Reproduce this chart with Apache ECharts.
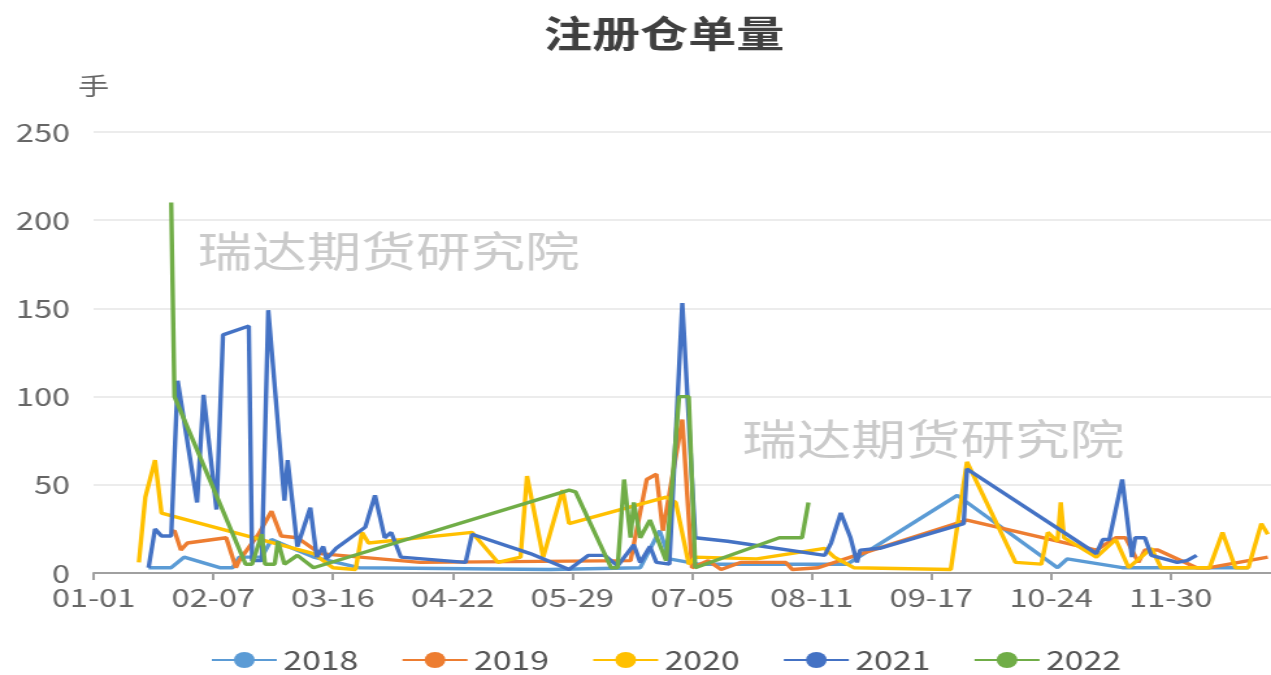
<!DOCTYPE html>
<html>
<head>
<meta charset="utf-8">
<title>注册仓单量</title>
<script src="https://cdn.jsdelivr.net/npm/echarts@6/dist/echarts.min.js"></script>
<style>
  html, body { margin: 0; padding: 0; background: #fff; }
  #wrap { width: 1271px; height: 675px; overflow: hidden; }
  /* the reference is a horizontally stretched screenshot, so draw narrower and stretch */
  #chart { width: 978px; height: 675px; transform: scaleX(1.2996); transform-origin: 0 0; }
</style>
</head>
<body>
<div id="wrap"><div id="chart"></div></div>
<script>
// 年份 / 图例
const years = ['2018', '2019', '2020', '2021', '2022'];
const colors = ['#5B9BD5', '#ED7D31', '#FFC000', '#4472C4', '#70AD47'];

// y 轴刻度
const yTicks = [0, 50, 100, 150, 200, 250];

// 注册仓单量（手），[日期, 数值]
const s2018 = [
  ['01-18', 3], ['01-25', 3], ['01-29', 9], ['02-09', 3], ['02-13', 3], ['02-15', 9],
  ['02-22', 9], ['02-25', 19], ['03-10', 9], ['03-24', 3], ['05-22', 2], ['06-19', 3],
  ['06-25', 24], ['06-28', 8], ['07-07', 5], ['08-22', 5], ['09-25', 44], ['10-26', 3],
  ['10-29', 8], ['11-15', 3], ['12-24', 3]
];
const s2019 = [
  ['01-25', 23], ['01-26', 24], ['01-28', 13], ['01-30', 17], ['02-11', 20], ['02-14', 3],
  ['02-15', 7], ['02-21', 22], ['02-25', 35], ['02-28', 21], ['03-05', 20], ['03-12', 11],
  ['04-12', 6], ['06-16', 7], ['06-21', 53], ['06-24', 56], ['06-26', 24], ['07-02', 87],
  ['07-05', 3], ['07-10', 7], ['07-14', 2], ['07-20', 6], ['08-03', 6], ['08-05', 2],
  ['08-13', 3], ['08-23', 9], ['09-28', 30], ['11-07', 13], ['11-13', 20], ['11-16', 20],
  ['11-20', 6], ['11-22', 13], ['11-26', 13], ['12-08', 3], ['12-12', 3], ['12-30', 9]
];
const s2020 = [
  ['01-15', 6], ['01-17', 43], ['01-20', 64], ['01-22', 34], ['03-10', 11], ['03-16', 3],
  ['03-23', 2], ['03-25', 23], ['03-27', 17], ['04-28', 23], ['05-06', 6], ['05-13', 9],
  ['05-15', 55], ['05-20', 9], ['05-26', 47], ['05-28', 28], ['06-27', 43], ['06-30', 40],
  ['07-04', 5], ['07-06', 9], ['07-25', 8], ['08-15', 14], ['08-18', 9], ['08-24', 3],
  ['09-23', 2], ['09-28', 63], ['10-13', 6], ['10-21', 5], ['10-23', 23], ['10-26', 18],
  ['10-27', 40], ['10-28', 20], ['11-07', 9], ['11-13', 19], ['11-17', 3], ['11-24', 14],
  ['11-27', 3], ['12-12', 3], ['12-16', 23], ['12-20', 3], ['12-24', 3], ['12-28', 28],
  ['12-30', 22]
];
const s2021 = [
  ['01-18', 3], ['01-20', 25], ['01-22', 21], ['01-25', 21], ['01-27', 109], ['02-02', 40],
  ['02-04', 101], ['02-08', 36], ['02-10', 135], ['02-18', 140], ['02-19', 7], ['02-22', 7],
  ['02-24', 149], ['03-01', 41], ['03-02', 64], ['03-05', 15], ['03-09', 37], ['03-11', 9],
  ['03-13', 15], ['03-14', 8], ['03-17', 14], ['03-26', 26], ['03-29', 44], ['04-01', 20],
  ['04-03', 23], ['04-06', 9], ['04-26', 6], ['04-28', 22], ['05-16', 11], ['05-28', 2],
  ['06-03', 10], ['06-08', 10], ['06-12', 4], ['06-17', 16], ['06-19', 6], ['06-22', 15],
  ['06-24', 6], ['06-28', 5], ['07-02', 153], ['07-06', 20], ['07-16', 18], ['08-15', 10],
  ['08-17', 17], ['08-20', 34], ['08-23', 20], ['08-25', 6], ['08-26', 13], ['09-01', 14],
  ['09-27', 28], ['09-28', 59], ['11-07', 11], ['11-09', 19], ['11-11', 19], ['11-15', 53],
  ['11-18', 9], ['11-19', 20], ['11-22', 20], ['11-24', 10], ['12-02', 6], ['12-05', 7],
  ['12-08', 10]
];
const s2022 = [
  ['01-25', 210], ['01-26', 100], ['02-17', 5], ['02-19', 5], ['02-22', 22], ['02-23', 5],
  ['02-26', 5], ['02-27', 18], ['03-01', 5], ['03-05', 10], ['03-10', 3], ['05-28', 47],
  ['05-30', 46], ['06-10', 3], ['06-12', 3], ['06-14', 53], ['06-16', 20], ['06-17', 40],
  ['06-19', 20], ['06-22', 30], ['06-27', 7], ['07-01', 100], ['07-04', 100], ['07-06', 3],
  ['08-01', 20], ['08-08', 20], ['08-10', 40]
];
const seriesData = [s2018, s2019, s2020, s2021, s2022];

// x 轴：全年 365 天 MM-DD
const monthDays = [31, 28, 31, 30, 31, 30, 31, 31, 30, 31, 30, 31];
const days = [];
monthDays.forEach((n, m) => {
  for (let d = 1; d <= n; d++) {
    days.push(String(m + 1).padStart(2, '0') + '-' + String(d).padStart(2, '0'));
  }
});

const chart = echarts.init(document.getElementById('chart'));
const font = "'Noto Sans CJK SC', 'Noto Sans', sans-serif";

const options = {
  animation: false,
  textStyle: { fontFamily: font },
  title: {
    text: '注册仓单量',
    left: 506,
    textAlign: 'center',
    top: 10,
    textStyle: { fontSize: 37, fontWeight: 'bold', color: '#404040', fontFamily: font }
  },
  // 水印
  graphic: [
    { type: 'text', x: 152, y: 230, z: 0,
      style: { text: '瑞达期货研究院', font: '42px ' + font, fill: '#cacaca' } },
    { type: 'text', x: 571, y: 418, z: 0,
      style: { text: '瑞达期货研究院', font: '42px ' + font, fill: '#cacaca' } }
  ],
  legend: {
    data: years,
    left: 157,
    top: 642,
    itemWidth: 50,
    itemHeight: 20,
    itemGap: 33,
    textStyle: { fontSize: 26, color: '#555' }
  },
  grid: { left: 72, right: 0, top: 132, bottom: 102 },
  xAxis: {
    type: 'category',
    data: days,
    boundaryGap: false,
    axisLine: { lineStyle: { color: '#a0a0a0', width: 2 } },
    axisTick: { interval: 36, length: 7, lineStyle: { color: '#a0a0a0', width: 2 } },
    axisLabel: { interval: 36, margin: 12, fontSize: 25, color: '#666' }
  },
  yAxis: {
    type: 'value',
    name: '手',
    nameGap: 34,
    nameTextStyle: { fontSize: 24, color: '#666', align: 'center' },
    min: yTicks[0],
    max: yTicks[yTicks.length - 1],
    interval: 50,
    axisLine: { show: false },
    axisTick: { show: false },
    axisLabel: { margin: 18, fontSize: 25, color: '#666' },
    splitLine: { lineStyle: { color: '#e6e6e6', width: 1.5 } }
  },
  series: years.map((y, i) => ({
    name: y,
    type: 'line',
    data: seriesData[i],
    symbol: 'circle',
    symbolSize: 9,
    showSymbol: false,
    color: colors[i],
    lineStyle: { width: 3.4 },
    z: 2 + i
  }))
};

chart.setOption(options);
</script>
</body>
</html>
